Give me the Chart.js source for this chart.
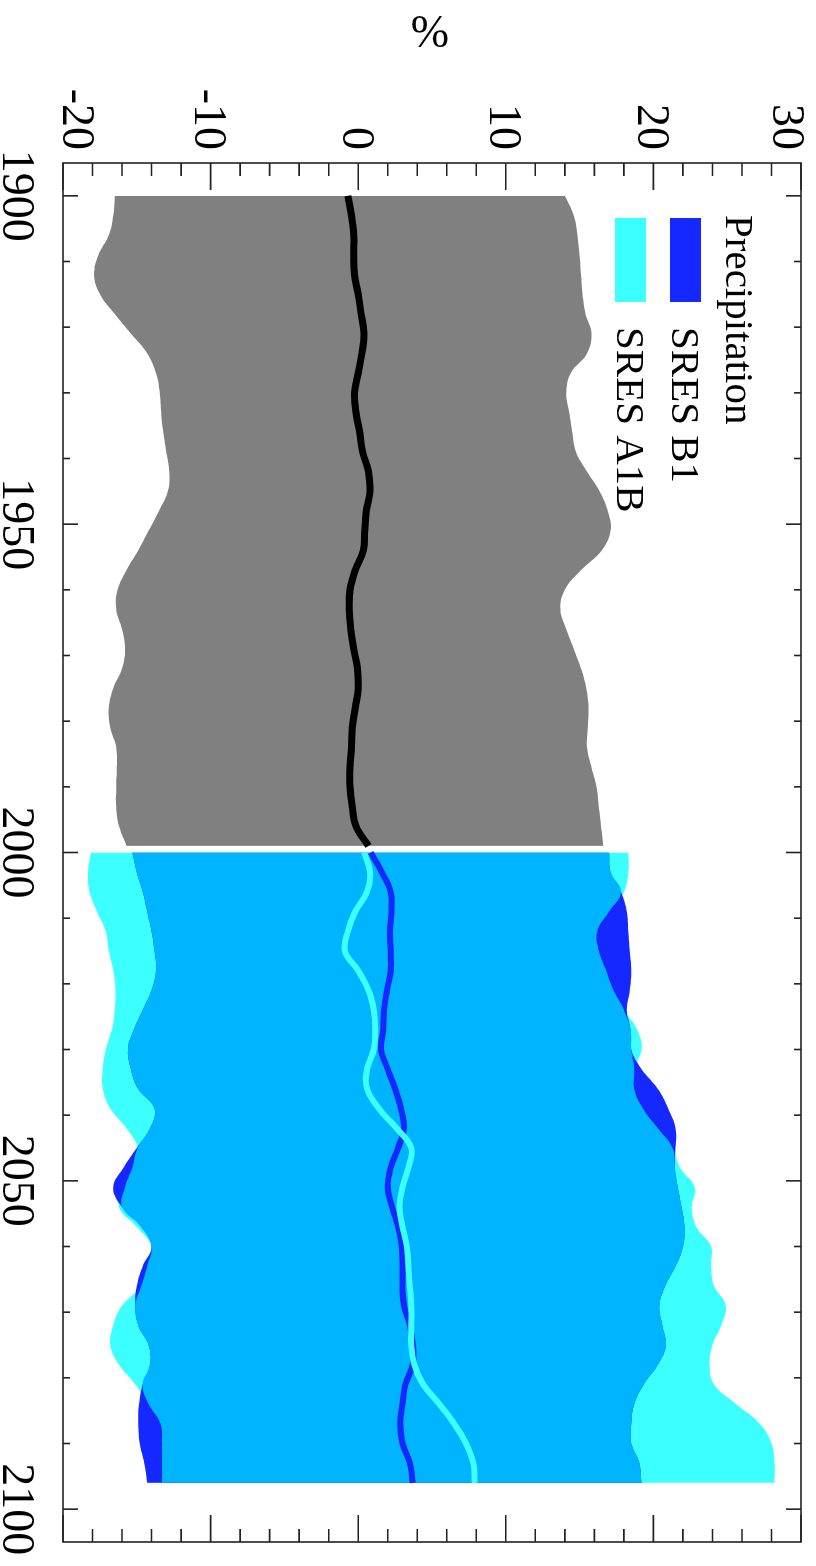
<!DOCTYPE html>
<html>
<head>
<meta charset="utf-8">
<script src="https://cdn.jsdelivr.net/npm/chart.js@4/dist/chart.umd.min.js"></script>
<style>
  html, body { margin: 0; padding: 0; background: #fff; width: 816px; height: 1566px; overflow: hidden; }
  /* the chart is laid out landscape and turned a quarter clockwise onto the portrait page */
  #wrap { position: absolute; left: 0; top: 0; width: 1566px; height: 816px;
          transform-origin: 0 0; transform: translate(816px, 0) rotate(90deg); }
</style>
</head>
<body>
<div id="wrap"><canvas id="c" width="1566" height="816"></canvas></div>
<script>
// ---- observed period: ensemble spread and mean (%) ----
const histYears = [1900,1903,1906,1909,1912,1915,1918,1921,1924,1927,1930,1933,1936,1939,1942,1945,1948,
                   1951,1954,1957,1960,1963,1966,1969,1972,1975,1978,1981,1984,1987,1990,1993,1996,1999];
const histUpper = [14.0,14.6,14.85,15.0,15.1,15.2,15.4,15.8,15.5,14.4,14.1,14.3,14.5,14.75,15.5,16.35,16.9,
                   17.1,16.5,15.1,14.0,13.7,14.1,14.6,15.1,15.45,15.6,15.55,15.5,15.8,16.15,16.3,16.45,16.6];
const histLower = [-16.5,-16.6,-16.9,-17.6,-17.9,-17.5,-16.5,-15.4,-14.3,-13.7,-13.45,-13.35,-13.2,-13.0,-12.8,-12.9,-13.5,
                   -14.2,-14.9,-15.7,-16.3,-16.4,-16.0,-15.8,-16.0,-16.6,-16.9,-16.8,-16.4,-16.35,-16.4,-16.4,-16.2,-15.7];
const histMean  = [-0.7,-0.45,-0.3,-0.3,-0.25,0.0,0.2,0.4,0.25,0.0,-0.25,-0.15,0.1,0.3,0.7,0.8,0.55,
                   0.45,0.35,-0.2,-0.55,-0.6,-0.5,-0.3,-0.05,0.0,-0.2,-0.4,-0.45,-0.55,-0.55,-0.4,-0.15,0.7];

// ---- scenario period: SRES B1 and SRES A1B (%) ----
const futYears = [2000,2003,2006,2009,2012,2015,2018,2021,2024,2027,2030,2033,2036,2039,2042,2045,2048,
                  2051,2054,2057,2060,2063,2066,2069,2072,2075,2078,2081,2084,2087,2090,2093,2096];
const b1Upper  = [17.0,17.1,17.8,18.2,18.3,18.4,18.5,18.4,18.2,18.45,18.5,19.2,20.3,21.0,21.5,21.5,21.45,
                  21.65,21.9,22.1,22.0,21.5,20.8,20.4,20.6,20.85,20.3,19.35,18.7,18.5,18.5,19.05,19.2];
const b1Lower  = [-15.3,-15.0,-14.6,-14.3,-14.0,-13.8,-13.7,-14.0,-14.6,-15.2,-15.6,-15.4,-14.9,-13.8,-14.1,-15.0,-15.9,
                  -16.6,-16.0,-14.7,-14.0,-14.6,-15.0,-15.1,-14.9,-14.2,-14.1,-14.6,-14.85,-14.9,-14.8,-14.5,-14.3];
const b1Mean   = [0.85,1.6,2.2,2.25,2.15,2.2,2.2,1.95,1.75,1.7,1.55,2.0,2.5,2.9,3.1,2.7,2.2,
                  2.0,2.3,2.7,2.95,3.0,3.0,3.1,3.5,3.7,3.7,3.2,3.0,2.85,3.0,3.5,3.7];
const a1bUpper = [18.3,18.3,18.0,17.0,16.2,16.3,16.8,17.3,18.0,18.9,19.2,18.7,18.7,19.3,20.3,21.3,21.8,
                  22.8,22.6,22.9,23.9,23.9,24.1,24.9,24.6,24.0,23.8,24.1,25.6,27.2,28.0,28.2,28.2];
const a1bLower = [-18.1,-18.3,-18.2,-17.7,-17.1,-16.9,-16.6,-16.45,-16.5,-16.7,-17.1,-17.3,-17.3,-16.8,-15.7,-14.95,-15.3,
                  -15.8,-16.2,-15.0,-14.0,-14.3,-14.7,-16.0,-16.6,-16.8,-16.2,-15.1,-14.2,-13.4,-13.3,-13.3,-13.3];
const a1bMean  = [0.4,0.8,0.6,-0.2,-0.7,-0.9,0.0,0.7,1.05,1.15,1.05,0.6,0.6,1.4,2.6,3.6,3.4,
                  3.0,2.8,3.0,3.3,3.4,3.5,3.6,3.6,3.6,3.8,4.4,5.5,6.5,7.3,7.8,7.9];

// ---- axes and legend text ----
const yearTicks = [1900, 1950, 2000, 2050, 2100];
const pctTicks = [-20, -10, 0, 10, 20, 30];
const axisTitle = '%';
const legendTitle = 'Precipitation';
const seriesNames = ['SRES B1', 'SRES A1B'];

// where the two scenario spreads overlap
const bothUpper = b1Upper.map((v, i) => Math.min(v, a1bUpper[i]));
const bothLower = b1Lower.map((v, i) => Math.max(v, a1bLower[i]));

const GREY = '#808080', CYAN = '#3CFFFF', DEEP = '#1428FF', SKY = '#00B4FF';
const SERIF = '"Liberation Serif", "Times New Roman", serif';

const pts = (xs, ys) => xs.map((x, i) => ({ x, y: ys[i] }));

function edge(xs, ys, fill, color, order) {
  return { data: pts(xs, ys), fill, backgroundColor: color, borderColor: 'rgba(0,0,0,0)',
           borderWidth: 0, pointRadius: 0, tension: 0.4, order };
}
function meanLine(xs, ys, color, width, order) {
  return { data: pts(xs, ys), fill: false, borderColor: color, borderWidth: width,
           borderCapStyle: 'butt', pointRadius: 0, tension: 0.4, order };
}

const axesFrame = {
  id: 'axesFrame',
  afterDraw(chart) {
    const { ctx, chartArea: a } = chart;
    const xs = chart.scales.x, ys = chart.scales.y;
    ctx.save();

    // frame and inward ticks
    ctx.strokeStyle = '#222';
    ctx.lineWidth = 1.6;
    ctx.strokeRect(a.left, a.top, a.right - a.left, a.bottom - a.top);
    ctx.beginPath();
    for (let yr = 1900; yr <= 2100; yr += 10) {
      const p = xs.getPixelForValue(yr);
      const len = yr % 50 === 0 ? 15 : 7;
      ctx.moveTo(p, a.bottom); ctx.lineTo(p, a.bottom - len);
      ctx.moveTo(p, a.top);    ctx.lineTo(p, a.top + len);
    }
    for (let v = -20; v <= 30; v += 2) {
      const p = ys.getPixelForValue(v);
      const len = v % 10 === 0 ? 27 : 13;
      ctx.moveTo(a.left, p);  ctx.lineTo(a.left + len, p);
      ctx.moveTo(a.right, p); ctx.lineTo(a.right - len, p);
    }
    ctx.stroke();

    // tick labels
    ctx.fillStyle = '#000';
    ctx.font = '46px ' + SERIF;
    ctx.textBaseline = 'alphabetic';
    ctx.textAlign = 'center';
    yearTicks.forEach(yr => ctx.fillText(String(yr), xs.getPixelForValue(yr), a.bottom + 60));
    ctx.textAlign = 'right';
    const digitH = 31;
    pctTicks.forEach((v, i) => {
      const p = ys.getPixelForValue(v);
      let base = p + digitH / 2;
      if (i === 0) base = p;
      if (i === pctTicks.length - 1) base = p + digitH - 3;
      ctx.fillText(String(v), a.left - 13, base);
    });

    // axis title
    ctx.save();
    ctx.translate(35, (a.top + a.bottom) / 2 + 2);
    ctx.rotate(-Math.PI / 2);
    ctx.textAlign = 'center';
    ctx.textBaseline = 'middle';
    ctx.fillText(axisTitle, 0, 0);
    ctx.restore();

    // legend
    ctx.font = '41px ' + SERIF;
    ctx.textAlign = 'left';
    ctx.fillText(legendTitle, 215, 90);
    ctx.fillStyle = DEEP;
    ctx.fillRect(218, 115, 84, 31);
    ctx.fillStyle = CYAN;
    ctx.fillRect(218, 170, 84, 31);
    ctx.fillStyle = '#000';
    ctx.fillText(seriesNames[0], 327, 144);
    ctx.fillText(seriesNames[1], 327, 199);

    ctx.restore();
  }
};

new Chart(document.getElementById('c'), {
  type: 'line',
  data: {
    datasets: [
      edge(histYears, histUpper, '+1', GREY, 50),
      edge(histYears, histLower, false, GREY, 50),
      edge(futYears, a1bUpper, '+1', CYAN, 40),
      edge(futYears, a1bLower, false, CYAN, 40),
      edge(futYears, b1Upper, '+1', DEEP, 30),
      edge(futYears, b1Lower, false, DEEP, 30),
      edge(futYears, bothUpper, '+1', SKY, 20),
      edge(futYears, bothLower, false, SKY, 20),
      meanLine(histYears, histMean, '#000000', 7, 3),
      meanLine(futYears, b1Mean, DEEP, 6, 2),
      meanLine(futYears, a1bMean, CYAN, 6, 1)
    ]
  },
  options: {
    responsive: false,
    animation: false,
    devicePixelRatio: 1,
    events: [],
    layout: { padding: { left: 163, right: 24, top: 15, bottom: 63 } },
    scales: {
      x: { type: 'linear', min: 1895, max: 2105, display: false },
      y: { type: 'linear', min: -20, max: 30, display: false }
    },
    plugins: { legend: { display: false }, tooltip: { enabled: false } }
  },
  plugins: [axesFrame]
});
</script>
</body>
</html>
